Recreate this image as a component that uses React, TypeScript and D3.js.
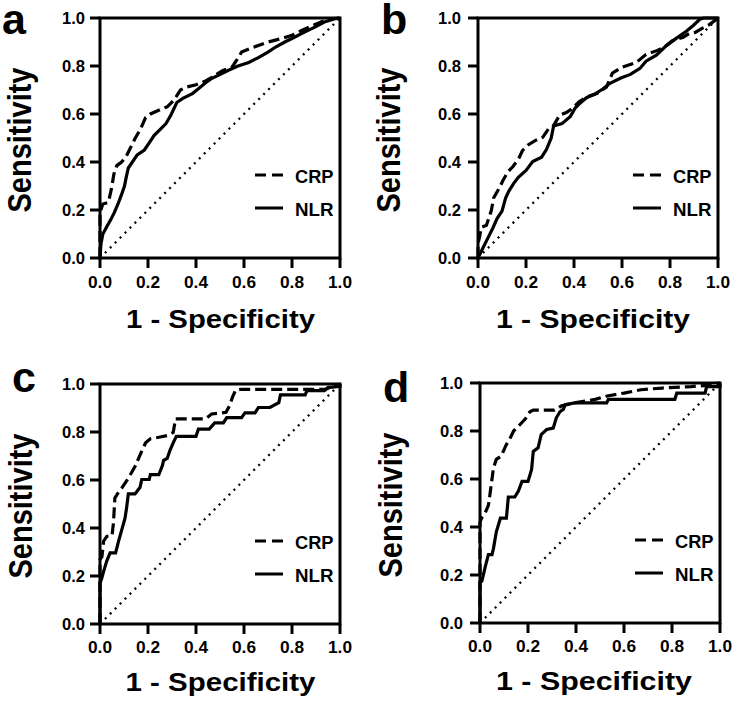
import React from "react";
import * as d3 from "d3";

type Pt = [number, number];

// ---- Data (1 - specificity, sensitivity) ----
const crpA: Pt[] = [[0,0],[0,0.19],[0.012,0.225],[0.035,0.232],[0.048,0.29],[0.058,0.35],[0.07,0.385],[0.09,0.40],[0.11,0.425],[0.125,0.455],[0.145,0.496],[0.17,0.54],[0.19,0.585],[0.21,0.6],[0.25,0.618],[0.28,0.63],[0.31,0.66],[0.335,0.70],[0.36,0.712],[0.40,0.722],[0.44,0.738],[0.47,0.755],[0.51,0.78],[0.55,0.795],[0.57,0.825],[0.59,0.858],[0.63,0.875],[0.70,0.9],[0.76,0.915],[0.80,0.928],[0.84,0.948],[0.88,0.966],[0.93,0.987],[0.97,0.997],[1,1]];
const nlrA: Pt[] = [[0,0],[0.004,0.06],[0.012,0.1],[0.028,0.13],[0.045,0.16],[0.06,0.19],[0.075,0.225],[0.09,0.265],[0.102,0.3],[0.11,0.34],[0.118,0.375],[0.135,0.4],[0.155,0.43],[0.185,0.45],[0.205,0.48],[0.225,0.51],[0.25,0.535],[0.275,0.56],[0.295,0.595],[0.32,0.648],[0.345,0.665],[0.385,0.685],[0.41,0.705],[0.44,0.73],[0.465,0.748],[0.495,0.762],[0.535,0.782],[0.575,0.8],[0.62,0.815],[0.66,0.835],[0.70,0.858],[0.73,0.878],[0.77,0.9],[0.81,0.92],[0.85,0.94],[0.895,0.962],[0.935,0.983],[0.975,0.996],[1,1]];
const crpB: Pt[] = [[0,0],[0,0.06],[0.007,0.09],[0.014,0.128],[0.035,0.136],[0.056,0.2],[0.065,0.25],[0.085,0.285],[0.105,0.325],[0.125,0.36],[0.145,0.38],[0.17,0.415],[0.185,0.447],[0.21,0.472],[0.24,0.49],[0.27,0.503],[0.295,0.54],[0.315,0.552],[0.34,0.595],[0.37,0.607],[0.395,0.625],[0.42,0.65],[0.45,0.67],[0.495,0.685],[0.535,0.712],[0.56,0.77],[0.6,0.795],[0.66,0.815],[0.7,0.848],[0.745,0.864],[0.775,0.878],[0.81,0.905],[0.855,0.92],[0.88,0.935],[0.905,0.94],[0.93,0.955],[0.96,0.97],[0.985,0.988],[1,1]];
const nlrB: Pt[] = [[0,0],[0.005,0.01],[0.022,0.045],[0.042,0.085],[0.062,0.125],[0.08,0.165],[0.1,0.195],[0.115,0.25],[0.128,0.278],[0.148,0.31],[0.168,0.336],[0.2,0.365],[0.228,0.402],[0.265,0.42],[0.285,0.452],[0.305,0.5],[0.315,0.55],[0.35,0.56],[0.385,0.59],[0.405,0.625],[0.425,0.645],[0.452,0.668],[0.485,0.682],[0.52,0.704],[0.55,0.728],[0.595,0.75],[0.635,0.765],[0.675,0.79],[0.7,0.82],[0.743,0.845],[0.785,0.885],[0.826,0.915],[0.868,0.945],[0.898,0.97],[0.925,0.995],[0.94,1],[1,1]];
const crpC: Pt[] = [[0,0],[0,0.27],[0.008,0.28],[0.015,0.345],[0.028,0.365],[0.05,0.368],[0.056,0.42],[0.062,0.525],[0.078,0.55],[0.09,0.565],[0.11,0.595],[0.128,0.625],[0.148,0.66],[0.167,0.705],[0.19,0.755],[0.21,0.772],[0.245,0.778],[0.28,0.785],[0.305,0.798],[0.315,0.855],[0.44,0.855],[0.465,0.875],[0.525,0.882],[0.54,0.91],[0.552,0.945],[0.565,0.975],[0.59,0.978],[0.94,0.978],[0.965,0.99],[1,1]];
const nlrC: Pt[] = [[0,0],[0,0.17],[0.007,0.19],[0.014,0.215],[0.028,0.262],[0.042,0.296],[0.065,0.296],[0.076,0.34],[0.09,0.39],[0.104,0.44],[0.111,0.485],[0.118,0.542],[0.146,0.542],[0.167,0.57],[0.174,0.602],[0.205,0.602],[0.21,0.622],[0.245,0.622],[0.26,0.66],[0.265,0.682],[0.28,0.69],[0.292,0.725],[0.305,0.755],[0.318,0.782],[0.4,0.782],[0.41,0.812],[0.455,0.812],[0.478,0.838],[0.514,0.838],[0.528,0.86],[0.59,0.86],[0.604,0.88],[0.646,0.88],[0.66,0.902],[0.708,0.902],[0.745,0.922],[0.752,0.955],[0.855,0.955],[0.862,0.972],[0.935,0.972],[0.95,0.985],[1,0.99],[1,1]];
const crpD: Pt[] = [[0,0],[0,0.42],[0.008,0.44],[0.022,0.46],[0.035,0.49],[0.042,0.54],[0.05,0.6],[0.056,0.645],[0.068,0.682],[0.088,0.695],[0.108,0.74],[0.128,0.775],[0.14,0.8],[0.165,0.825],[0.19,0.852],[0.208,0.88],[0.222,0.887],[0.31,0.887],[0.34,0.905],[0.4,0.918],[0.48,0.932],[0.53,0.946],[0.6,0.958],[0.67,0.972],[0.76,0.979],[0.88,0.985],[0.94,0.99],[0.96,0.996],[1,1]];
const nlrD: Pt[] = [[0,0],[0,0.167],[0.008,0.175],[0.022,0.235],[0.035,0.285],[0.05,0.285],[0.056,0.31],[0.068,0.38],[0.08,0.42],[0.085,0.437],[0.11,0.437],[0.118,0.525],[0.145,0.525],[0.16,0.55],[0.175,0.59],[0.2,0.59],[0.215,0.64],[0.222,0.715],[0.242,0.73],[0.255,0.785],[0.278,0.806],[0.305,0.812],[0.318,0.855],[0.333,0.88],[0.347,0.89],[0.355,0.91],[0.395,0.917],[0.528,0.917],[0.535,0.932],[0.812,0.932],[0.82,0.958],[0.938,0.958],[0.944,0.985],[1,0.985],[1,1]];

const ticks = [0, 0.2, 0.4, 0.6, 0.8, 1.0];
const tickLabels = ["0.0", "0.2", "0.4", "0.6", "0.8", "1.0"];
const seriesNames = ["CRP", "NLR"];
const xTitle = "1 - Specificity";
const yTitle = "Sensitivity";

// ---- Layout ----
const panels = [
  { letter: "a", crp: crpA, nlr: nlrA, left: 100, top: 18, bottom: 258, letterX: 2, letterY: 34, ylabOff: 15, ytitleOff: 69, tickBase: 30, titleBase: 69.5, titleShift: 0.5, titleLen: 189 },
  { letter: "b", crp: crpB, nlr: nlrB, left: 478, top: 18, bottom: 258, letterX: 381, letterY: 34, ylabOff: 17, ytitleOff: 78, tickBase: 30, titleBase: 69.5, titleShift: -5, titleLen: 194 },
  { letter: "c", crp: crpC, nlr: nlrC, left: 100, top: 384, bottom: 624, letterX: 12, letterY: 392, ylabOff: 15, ytitleOff: 68, tickBase: 28.5, titleBase: 67, titleShift: 0.5, titleLen: 190 },
  { letter: "d", crp: crpD, nlr: nlrD, left: 480, top: 383, bottom: 623, letterX: 383, letterY: 402, ylabOff: 17, ytitleOff: 78, tickBase: 28.5, titleBase: 67, titleShift: -6, titleLen: 196 },
];

const W = 240;
const FONT = "'Liberation Sans', Arial, Helvetica, sans-serif";

function Panel({ p }: { p: typeof panels[number] }) {
  const x = d3.scaleLinear().domain([0, 1]).range([p.left, p.left + W]);
  const y = d3.scaleLinear().domain([0, 1]).range([p.bottom, p.top]);
  const line = d3.line<Pt>().x((d) => x(d[0])).y((d) => y(d[1]));
  const cx = (p.left + p.left + W) / 2;
  const cy = (p.top + p.bottom) / 2;
  return (
    <g fontFamily={FONT} fontWeight="bold" fill="#000">
      <text x={p.letterX} y={p.letterY} fontSize={43}>{p.letter}</text>
      {/* diagonal */}
      <path d={line([[0, 0], [1, 1]]) || ""} stroke="#000" strokeWidth={2.3} strokeDasharray="2 5" fill="none" />
      {/* curves */}
      <path d={line(p.nlr) || ""} stroke="#000" strokeWidth={3.2} fill="none" />
      <path d={line(p.crp) || ""} stroke="#000" strokeWidth={3.2} strokeDasharray="11 5" fill="none" />
      {/* frame */}
      <rect x={x(0)} y={y(1)} width={x(1) - x(0)} height={y(0) - y(1)} fill="none" stroke="#000" strokeWidth={3} />
      {/* ticks */}
      {ticks.map((t, i) => (
        <g key={"xt" + i}>
          <line x1={x(t)} x2={x(t)} y1={p.bottom} y2={p.bottom + 10} stroke="#000" strokeWidth={3} />
          <text x={x(t)} y={p.bottom + p.tickBase} fontSize={16} textAnchor="middle" textLength={24} lengthAdjust="spacingAndGlyphs">{tickLabels[i]}</text>
        </g>
      ))}
      {ticks.map((t, i) => (
        <g key={"yt" + i}>
          <line x1={p.left - 10} x2={p.left} y1={y(t)} y2={y(t)} stroke="#000" strokeWidth={3} />
          <text x={p.left - p.ylabOff} y={y(t) + 6} fontSize={16} textAnchor="end" textLength={23} lengthAdjust="spacingAndGlyphs">{tickLabels[i]}</text>
        </g>
      ))}
      {/* axis titles */}
      <text x={cx + p.titleShift} y={p.bottom + p.titleBase} fontSize={26.5} textAnchor="middle" textLength={p.titleLen} lengthAdjust="spacingAndGlyphs">{xTitle}</text>
      <text transform={`translate(${p.left - p.ytitleOff},${cy + 2}) rotate(-90)`} fontSize={33} textAnchor="middle" textLength={145} lengthAdjust="spacingAndGlyphs">{yTitle}</text>
      {/* legend */}
      <line x1={p.left + 155} x2={p.left + 183} y1={p.bottom - 83} y2={p.bottom - 83} stroke="#000" strokeWidth={3} strokeDasharray="11 6" />
      <text x={p.left + 195} y={p.bottom - 75.5} fontSize={18.5} textLength={38.5} lengthAdjust="spacingAndGlyphs">{seriesNames[0]}</text>
      <line x1={p.left + 155} x2={p.left + 183} y1={p.bottom - 50} y2={p.bottom - 50} stroke="#000" strokeWidth={3} />
      <text x={p.left + 195} y={p.bottom - 42} fontSize={18.5} textLength={38.5} lengthAdjust="spacingAndGlyphs">{seriesNames[1]}</text>
    </g>
  );
}

export default function App() {
  return (
    <svg width={733} height={702} viewBox="0 0 733 702" style={{ position: "absolute", left: 0, top: 0, background: "#fff" }}>
      <rect x={0} y={0} width={733} height={702} fill="#fff" />
      {panels.map((p) => (
        <Panel key={p.letter} p={p} />
      ))}
    </svg>
  );
}
